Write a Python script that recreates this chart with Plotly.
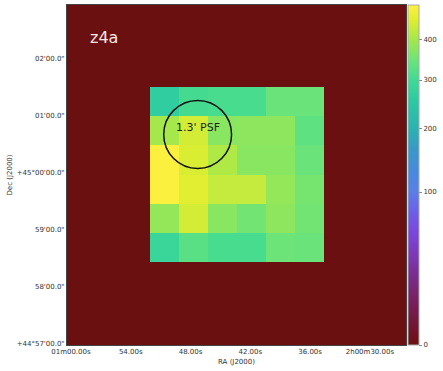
import numpy as np
import plotly.graph_objects as go

# 6x6 cutout values (top row first)
rows = [
    [263, 304, 308, 308, 344, 344],
    [399, 440, 373, 377, 377, 331],
    [490, 445, 408, 373, 373, 344],
    [490, 454, 426, 426, 382, 356],
    [382, 440, 373, 352, 377, 352],
    [285, 327, 308, 308, 348, 344],
]
vmax = 494
cbar_vals = [0, 100, 200, 300, 400]
ra_labels = ["01m00.00s", "54.00s", "48.00s", "42.00s", "36.00s", "2h00m30.00s"]
ra_secs = [60, 54, 48, 42, 36, 30]
dec_labels = ["02'00.0\"", "01'00.0\"", "+45°00'00.0\"", "59'00.0\"", "58'00.0\"", "+44°57'00.0\""]
dec_offsets = [2, 1, 0, -1, -2, -3]
label = "z4a"
psf_label = "1.3' PSF"

arr = np.array(rows, dtype=float)[::-1]  # bottom row first
pad = 3
full = np.pad(arr, pad, constant_values=0.0)
n = full.shape[0]
coords = np.arange(n) - pad
z = np.sqrt(full)

colorscale = [
    [0.0, "#6b1010"],
    [0.132, "#782060"],
    [0.22, "#7a3098"],
    [0.265, "#7e38b8"],
    [0.338, "#7a48e0"],
    [0.397, "#6a62e8"],
    [0.45, "#5a7ee8"],
    [0.5, "#4a88e0"],
    [0.574, "#3a98c8"],
    [0.635, "#2ab2b2"],
    [0.72, "#2ccaa2"],
    [0.779, "#40da94"],
    [0.838, "#6ce478"],
    [0.9, "#a6e84a"],
    [0.956, "#e0ee30"],
    [1.0, "#fff040"],
]

fig = go.Figure()
fig.add_trace(go.Heatmap(
    z=z, x=coords, y=coords, zmin=0, zmax=np.sqrt(vmax),
    colorscale=colorscale, hoverinfo="skip",
    colorbar=dict(
        tickvals=np.sqrt(cbar_vals), ticktext=[str(v) for v in cbar_vals],
        thickness=11, len=1, lenmode="fraction", y=0.5, yanchor="middle",
        x=1.006, xanchor="left", xpad=0, ypad=0,
        outlinecolor="#aaaaaa", outlinewidth=1,
        ticks="outside", ticklen=3, tickcolor="#888888",
        tickfont=dict(family="DejaVu Sans", size=7, color="#333333"),
    ),
))

xr = [-3.36, 8.33]
yr = [-3.36, 8.33]
xtick = [-3.224 + (60 - s) / 6 * 2.062 for s in ra_secs]
ytick = [2.57 + d * 1.965 for d in dec_offsets]

axfont = dict(family="DejaVu Sans", size=7, color="#333333")
fig.update_xaxes(range=xr, tickvals=xtick, ticktext=ra_labels, showgrid=False,
                 zeroline=False, showline=True, mirror=True, linecolor="#444444",
                 linewidth=1, ticks="", tickfont=axfont, automargin=False,
                 title=dict(text="RA (J2000)", font=axfont, standoff=3))
fig.update_yaxes(range=yr, tickvals=ytick, ticktext=dec_labels, showgrid=False,
                 zeroline=False, showline=True, mirror=True, linecolor="#444444",
                 linewidth=1, ticks="", tickfont=axfont, automargin=False,
                 title=dict(text="Dec (J2000)", font=axfont, standoff=3))

cx, cy, r = 1.145, 3.88, 1.17
fig.add_shape(type="circle", xref="x", yref="y", x0=cx - r, x1=cx + r, y0=cy - r, y1=cy + r,
              line=dict(color="#111111", width=1.5))
fig.add_annotation(x=1.155, y=4.12, xref="x", yref="y", text=psf_label, showarrow=False,
                   xanchor="center", yanchor="middle",
                   font=dict(family="DejaVu Sans", size=11, color="#222222"))
fig.add_annotation(x=0.109, y=0.903, xref="paper", yref="paper", text=label, showarrow=False,
                   xanchor="center", yanchor="middle",
                   font=dict(family="DejaVu Sans", size=16, color="#f5e6e6"))

fig.update_layout(width=443, height=371,
                  margin=dict(l=67, r=37, t=5, b=26, autoexpand=False),
                  paper_bgcolor="white", plot_bgcolor="#6b1010", showlegend=False)
fig.write_html("out.html", post_script="document.body.style.margin='0';",
               config={"displayModeBar": False})
